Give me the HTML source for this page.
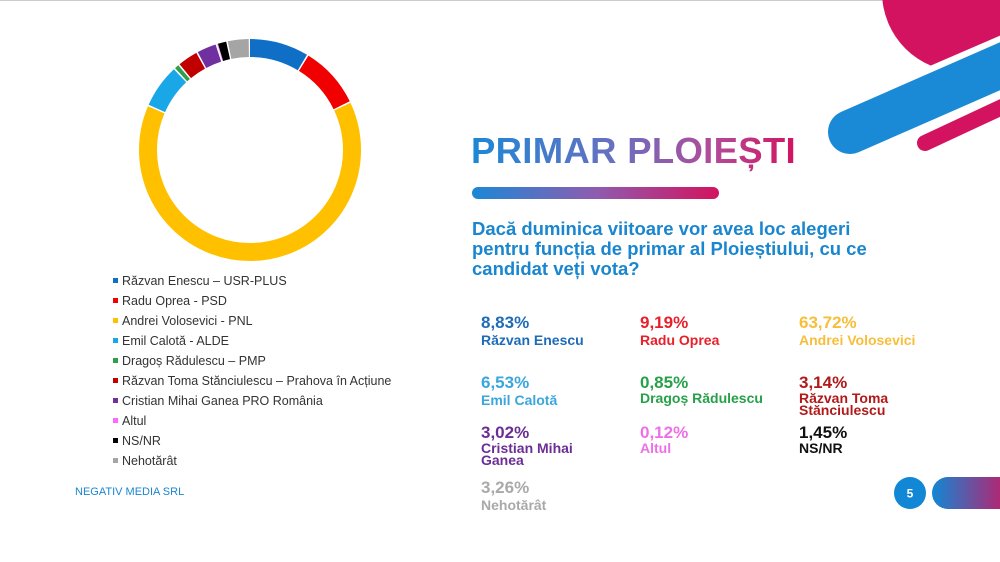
<!DOCTYPE html>
<html><head><meta charset="utf-8">
<style>
*{margin:0;padding:0;box-sizing:border-box}
body{width:1000px;height:562px;overflow:hidden;background:#fff;font-family:"Liberation Sans",Arial,sans-serif;position:relative}
.abs{position:absolute}
.title{left:471px;top:130px;font-size:36.5px;font-weight:bold;letter-spacing:0.3px;white-space:nowrap;
background:linear-gradient(90deg,#1b88d6 0%,#6a6fc0 45%,#b24a98 75%,#d3135f 100%);-webkit-background-clip:text;background-clip:text;color:transparent}
.bar{left:472px;top:187px;width:247px;height:12px;border-radius:6px;background:linear-gradient(90deg,#1b88d6,#8e5cb0,#d3135f)}
.q{left:472px;top:219px;font-size:18.5px;font-weight:bold;color:#1a86cf;line-height:20px}
.leg{left:113px;top:273px;font-size:12.5px;color:#333}
.leg div{height:20px;line-height:16px;white-space:nowrap}
.leg span{display:inline-block;width:5px;height:5px;margin-right:4px;vertical-align:2px}
.st{font-weight:bold;line-height:13px}
.st .p{font-size:17px;line-height:18px}
.st .n{font-size:14px;line-height:12px}
</style></head><body>
<div class="abs" style="left:0;top:0;width:1000px;height:1px;background:#ccc"></div>
<svg class="abs" style="left:0;top:0" width="1000" height="562">
<circle cx="962" cy="-8" r="80" fill="#d3135f"/>
<line x1="1040" y1="50" x2="850" y2="132" stroke="#fff" stroke-width="58" stroke-linecap="round"/>
<line x1="1060" y1="40" x2="850" y2="132" stroke="#1b8ad6" stroke-width="44" stroke-linecap="round"/>
<line x1="1060" y1="80" x2="925" y2="143" stroke="#d3135f" stroke-width="16" stroke-linecap="round"/>
<g transform="rotate(-90 250 150)" fill="none" stroke-width="18">
<circle cx="250" cy="150" r="102" stroke="#0f6fc6" stroke-dasharray="55 700" stroke-dashoffset="0"/>
<circle cx="250" cy="150" r="102" stroke="#f00000" stroke-dasharray="57.3 700" stroke-dashoffset="-56.53"/>
<circle cx="250" cy="150" r="102" stroke="#ffc000" stroke-dasharray="406.4 700" stroke-dashoffset="-115.36"/>
<circle cx="250" cy="150" r="102" stroke="#1aa7e8" stroke-dasharray="40.3 700" stroke-dashoffset="-523.29"/>
<circle cx="250" cy="150" r="102" stroke="#2ea04a" stroke-dasharray="3.9 700" stroke-dashoffset="-565.09"/>
<circle cx="250" cy="150" r="102" stroke="#c00000" stroke-dasharray="18.6 700" stroke-dashoffset="-570.53"/>
<circle cx="250" cy="150" r="102" stroke="#7030a0" stroke-dasharray="17.8 700" stroke-dashoffset="-590.63"/>
<circle cx="250" cy="150" r="102" stroke="#ff66ff" stroke-dasharray="0.5 700" stroke-dashoffset="-609.96"/>
<circle cx="250" cy="150" r="102" stroke="#000" stroke-dasharray="7.8 700" stroke-dashoffset="-610.73"/>
<circle cx="250" cy="150" r="102" stroke="#a5a5a5" stroke-dasharray="19.4 700" stroke-dashoffset="-620.01"/>
</g>
<circle cx="910" cy="493" r="16" fill="#1187d5"/>
<text x="910" y="497.5" font-size="12" font-weight="bold" fill="#fff" text-anchor="middle" font-family="Liberation Sans,sans-serif">5</text>
<defs><linearGradient id="pg" x1="0" x2="1"><stop offset="0" stop-color="#1187d5"/><stop offset="1" stop-color="#d3135f"/></linearGradient></defs>
<rect x="932" y="477" width="84" height="32" rx="16" fill="url(#pg)"/>
</svg>
<div class="abs title">PRIMAR PLOIEȘTI</div>
<div class="abs bar"></div>
<div class="abs q">Dacă duminica viitoare vor avea loc alegeri<br>pentru funcția de primar al Ploieștiului, cu ce<br>candidat veți vota?</div>
<div class="abs leg">
<div><span style="background:#0f6fc6"></span>Răzvan Enescu – USR-PLUS</div>
<div><span style="background:#f00000"></span>Radu Oprea - PSD</div>
<div><span style="background:#ffc000"></span>Andrei Volosevici - PNL</div>
<div><span style="background:#1aa7e8"></span>Emil Calotă - ALDE</div>
<div><span style="background:#2ea04a"></span>Dragoș Rădulescu – PMP</div>
<div><span style="background:#c00000"></span>Răzvan Toma Stănciulescu – Prahova în Acțiune</div>
<div><span style="background:#7030a0"></span>Cristian Mihai Ganea PRO România</div>
<div><span style="background:#ff66ff"></span>Altul</div>
<div><span style="background:#000"></span>NS/NR</div>
<div><span style="background:#a5a5a5"></span>Nehotărât</div>
</div>
<div class="abs" style="left:75px;top:486px;font-size:11px;color:#1a86cf">NEGATIV MEDIA SRL</div>

<div class="abs st" style="left:481px;top:314px;color:#1f6bb8"><div class="p">8,83%</div><div class="n" style="margin-top:2px">Răzvan Enescu</div></div>
<div class="abs st" style="left:640px;top:314px;color:#e8202a"><div class="p">9,19%</div><div class="n" style="margin-top:2px">Radu Oprea</div></div>
<div class="abs st" style="left:799px;top:314px;color:#f7be3a"><div class="p">63,72%</div><div class="n" style="margin-top:2px">Andrei Volosevici</div></div>

<div class="abs st" style="left:481px;top:374px;color:#3aa6dd"><div class="p">6,53%</div><div class="n" style="margin-top:2px">Emil Calotă</div></div>
<div class="abs st" style="left:640px;top:374px;color:#27a04a"><div class="p">0,85%</div><div class="n">Dragoș Rădulescu</div></div>
<div class="abs st" style="left:799px;top:374px;color:#b01a1a"><div class="p">3,14%</div><div class="n">Răzvan Toma<br>Stănciulescu</div></div>

<div class="abs st" style="left:481px;top:424px;color:#6a2e94"><div class="p">3,02%</div><div class="n">Cristian Mihai<br>Ganea</div></div>
<div class="abs st" style="left:640px;top:424px;color:#ec70e8"><div class="p">0,12%</div><div class="n">Altul</div></div>
<div class="abs st" style="left:799px;top:424px;color:#111"><div class="p">1,45%</div><div class="n">NS/NR</div></div>

<div class="abs st" style="left:481px;top:479px;color:#a9a9a9"><div class="p">3,26%</div><div class="n" style="margin-top:2px">Nehotărât</div></div>
</body></html>
